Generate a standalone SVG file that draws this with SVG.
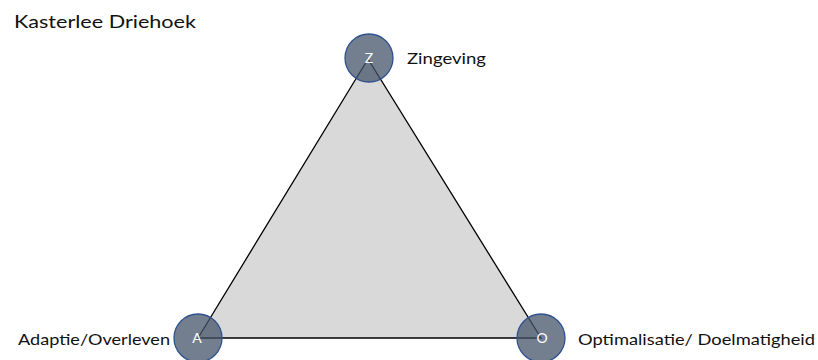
<svg xmlns="http://www.w3.org/2000/svg" width="818" height="360" viewBox="0 0 818 360">
<style>
.lbl{font-family:Lato,"Open Sans","Liberation Sans",sans-serif;font-size:16px;fill:#111}
.vx{fill:#44546a;fill-opacity:0.75;stroke:#2f528f;stroke-width:1.3}
.vt{font-family:Lato,"Open Sans","Liberation Sans",sans-serif;font-size:14px;fill:#fff;text-anchor:middle}
</style>
<rect width="818" height="360" fill="#fff"/>
<text class="lbl" x="14" y="28" textLength="182" lengthAdjust="spacingAndGlyphs" style="font-size:17px">Kasterlee Driehoek</text>
<g id="connectors">
<polygon points="368,59 198,338 541,338" fill="#d9d9d9" stroke="#000" stroke-width="1.3"/>
</g>
<g id="node-Z">
<circle class="vx" cx="369" cy="58" r="24"/>
<text class="vt" x="369" y="63">Z</text>
<text class="lbl" x="407" y="64" textLength="79" lengthAdjust="spacingAndGlyphs">Zingeving</text>
</g>
<g id="node-A">
<circle class="vx" cx="198" cy="338" r="24"/>
<text class="vt" x="197" y="343">A</text>
<text class="lbl" x="18" y="345" textLength="152" lengthAdjust="spacingAndGlyphs">Adaptie/Overleven</text>
</g>
<g id="node-O">
<circle class="vx" cx="541" cy="338" r="24"/>
<text class="vt" x="542" y="343">O</text>
<text class="lbl" x="578" y="345" textLength="237" lengthAdjust="spacingAndGlyphs">Optimalisatie/ Doelmatigheid</text>
</g>
</svg>
